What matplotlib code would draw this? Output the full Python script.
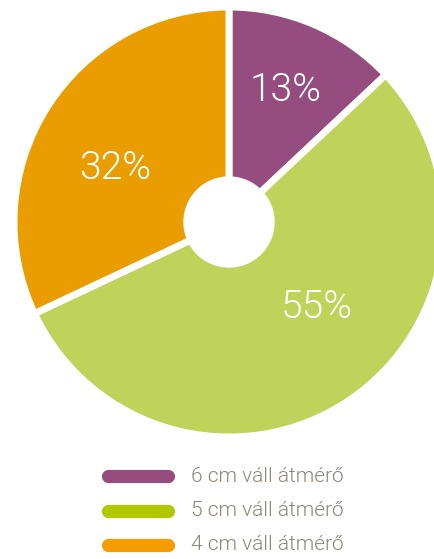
import matplotlib.pyplot as plt

labels = ["6 cm váll átmérő", "5 cm váll átmérő", "4 cm váll átmérő"]
shares = [13, 55, 32]
pie_colors = ["#954C7E", "#BFD25A", "#E99D00"]
legend_colors = ["#944C7E", "#B0C800", "#F59C00"]

W, H = 434, 559
fig = plt.figure(figsize=(W / 100, H / 100), dpi=100)
ax = fig.add_axes([0, 0, 1, 1])

cx, cy = 229, H - 222
wedges, _ = ax.pie(shares, colors=pie_colors, startangle=90, counterclock=False,
                   center=(cx, cy), radius=215, frame=True,
                   wedgeprops=dict(edgecolor="white", linewidth=5))
ax.add_patch(plt.Circle((cx, cy), 45, color="white", zorder=5))
ax.set_xlim(0, W)
ax.set_ylim(0, H)
ax.set_aspect("equal")
ax.axis("off")

# label positions in pixels (x, y from top)
label_pos = [(286, 90), (317, 307), (115, 168)]
for s, (x, y) in zip(shares, label_pos):
    ax.text(x, H - y, f"{s}%", color="white", fontsize=28, family="Roboto",
            fontweight=300, ha="center", va="center", zorder=6)

# legend
for i, (lab, col) in enumerate(zip(labels, legend_colors)):
    y = H - (476 + i * 34.5)
    ax.plot([108, 168], [y, y], color=col, lw=9.5, solid_capstyle="round")
    ax.text(191, y, lab, color="#8C837B", fontsize=15, family="Roboto",
            fontweight=300, ha="left", va="center")

fig.savefig("out.png", dpi=100)
